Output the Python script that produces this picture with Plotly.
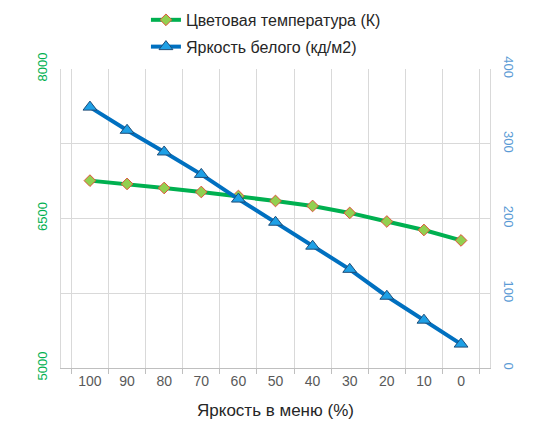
import plotly.graph_objects as go

categories = ["100", "90", "80", "70", "60", "50", "40", "30", "20", "10", "0"]
color_temp = [6880, 6847, 6806, 6766, 6726, 6676, 6626, 6556, 6470, 6385, 6280]
white_lum = [349, 318, 289, 259, 226, 195, 163, 132, 96, 64, 32]

left_ticks = [5000, 5750, 6500, 7250, 8000]
left_ticktext = ["5000", "", "6500", "", "8000"]
right_ticks = [0, 100, 200, 300, 400]

FONT = "Liberation Sans, Arial, sans-serif"
W, H = 558, 421
ML, MR, MT, MB = 61, 68, 69, 53

fig = go.Figure()
fig.add_trace(go.Scatter(
    x=categories, y=color_temp, name="Цветовая температура (К)",
    mode="lines+markers", legendgroup="a",
    line=dict(color="#00B050", width=4),
    marker=dict(symbol="diamond", size=9, color="#92D050",
                line=dict(color="#E0523A", width=1)),
    yaxis="y",
))
fig.add_trace(go.Scatter(
    x=categories, y=white_lum, name="Яркость белого (кд/м2)",
    mode="lines+markers", legendgroup="b",
    line=dict(color="#0070C0", width=4),
    marker=dict(symbol="triangle-up", size=12, color="#1EA0E6",
                line=dict(color="#1F4E79", width=1)),
    yaxis="y2",
))

fig.update_layout(
    width=W, height=H,
    margin=dict(l=ML, r=MR, t=MT, b=MB, autoexpand=False),
    paper_bgcolor="white", plot_bgcolor="white",
    font=dict(family=FONT, size=13, color="#595959"),
    showlegend=True,
    legend=dict(
        x=0.198, y=1.221, xanchor="left", yanchor="top",
        font=dict(size=16, color="#262626"),
        tracegroupgap=3, itemwidth=30,
        bgcolor="rgba(0,0,0,0)",
    ),
    xaxis=dict(
        type="category", tickson="boundaries",
        showgrid=True, gridcolor="#D9D9D9", gridwidth=1,
        showline=True, linecolor="#BFBFBF",
        ticks="outside", ticklen=5, tickcolor="#BFBFBF",
        tickangle=0, automargin=False,
        tickfont=dict(size=14, color="#595959"),
        title=dict(text="Яркость в меню (%)", font=dict(size=17, color="#262626"), standoff=16),
    ),
    yaxis=dict(
        range=[5000, 8000], tickvals=left_ticks, ticktext=left_ticktext,
        showgrid=True, gridcolor="#D9D9D9", gridwidth=1,
        showline=True, linecolor="#D9D9D9", automargin=False,
        tickangle=-90, tickfont=dict(size=13, color="#00B050"),
        ticklabelstandoff=8, zeroline=False,
    ),
    yaxis2=dict(
        range=[0, 400], tickvals=right_ticks, overlaying="y", side="right",
        showgrid=False, showline=True, linecolor="#D9D9D9", automargin=False,
        tickangle=90, tickfont=dict(size=13, color="#5B9BD5"),
        ticklabelstandoff=8, zeroline=False,
    ),
)

fig.write_html("out.html")
